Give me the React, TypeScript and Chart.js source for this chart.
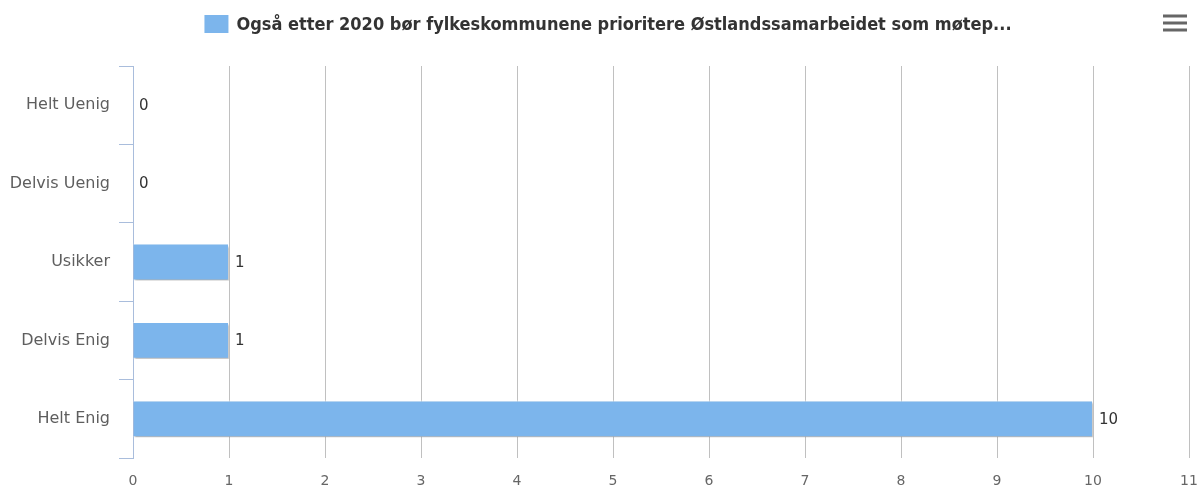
import React, { useEffect, useRef } from "react";
import { Chart, registerables } from "chart.js";

Chart.register(...registerables);

const categories = ["Helt Uenig", "Delvis Uenig", "Usikker", "Delvis Enig", "Helt Enig"];
const values = [0, 0, 1, 1, 10];
const seriesName = "Også etter 2020 bør fylkeskommunene prioritere Østlandssamarbeidet som møtep...";
const xTicks = [0, 1, 2, 3, 4, 5, 6, 7, 8, 9, 10, 11];

const FONT = "'DejaVu Sans', sans-serif";
const LEGEND_FONT = "'DejaVu Sans Condensed', 'DejaVu Sans', sans-serif";
const BAR_COLOR = "#7cb5ec";

const extrasPlugin = {
  id: "extras",
  beforeDatasetDraw(chart: any) {
    const ctx = chart.ctx;
    ctx.save();
    ctx.shadowColor = "rgba(0,0,0,0.3)";
    ctx.shadowOffsetX = 1;
    ctx.shadowOffsetY = 2;
    ctx.shadowBlur = 2;
  },
  afterDatasetDraw(chart: any) {
    chart.ctx.restore();
  },
  afterDraw(chart: any) {
    const ctx = chart.ctx;
    // data labels
    const meta = chart.getDatasetMeta(0);
    ctx.save();
    ctx.font = `15px ${FONT}`;
    ctx.fillStyle = "#333";
    ctx.textAlign = "left";
    ctx.textBaseline = "middle";
    meta.data.forEach((el: any, i: number) => {
      ctx.fillText(String(values[i]), el.x + 6, el.y + 1);
    });
    // legend
    ctx.font = `bold 18px ${LEGEND_FONT}`;
    const tw = ctx.measureText(seriesName).width;
    const boxW = 24;
    const boxH = 18;
    const gap = 8;
    const total = boxW + gap + tw;
    const startX = 608 - total / 2;
    const cy = 24;
    ctx.fillStyle = BAR_COLOR;
    ctx.fillRect(startX, cy - boxH / 2, boxW, boxH);
    ctx.fillStyle = "#333";
    ctx.textBaseline = "middle";
    ctx.fillText(seriesName, startX + boxW + gap, cy + 1);
    // hamburger menu
    ctx.fillStyle = "#666";
    [16, 23, 30].forEach((y) => {
      ctx.fillRect(1163, y - 1.5, 24, 3);
    });
    ctx.restore();
  },
};

export default function App() {
  const ref = useRef<HTMLCanvasElement>(null);
  useEffect(() => {
    if (!ref.current) return;
    const chart = new Chart(ref.current, {
      type: "bar",
      data: {
        labels: categories,
        datasets: [
          {
            label: seriesName,
            data: values,
            backgroundColor: BAR_COLOR,
            borderColor: "#ffffff",
            borderWidth: 1,
            barPercentage: 0.47,
            categoryPercentage: 1,
          },
        ],
      },
      options: {
        indexAxis: "y",
        animation: false,
        responsive: false,
        maintainAspectRatio: false,
        layout: { padding: { top: 66, right: 11, bottom: 0, left: 0 } },
        plugins: {
          legend: { display: false },
          tooltip: { enabled: false },
        },
        scales: {
          x: {
            type: "linear",
            min: 0,
            max: 11,
            afterBuildTicks: (scale: any) => {
              scale.ticks = xTicks.map((v) => ({ value: v }));
            },
            afterFit: (scale: any) => {
              scale.height = 31;
              scale.paddingLeft = 0;
              scale.paddingRight = 0;
            },
            ticks: {
              color: "#666",
              font: { family: FONT, size: 14 },
              padding: 15,
            },
            grid: {
              color: (c: any) => (c.index === 0 ? "rgba(0,0,0,0)" : "#c0c0c0"),
              lineWidth: 1,
              drawTicks: false,
            },
            border: { display: false },
          },
          y: {
            type: "category",
            afterFit: (scale: any) => {
              scale.width = 133;
              scale.paddingTop = 0;
              scale.paddingBottom = 0;
            },
            ticks: {
              color: "#5e5e5e",
              font: { family: FONT, size: 16 },
              padding: 9,
            },
            grid: {
              offset: true,
              drawOnChartArea: false,
              drawTicks: true,
              tickLength: 14,
              color: "#a9bddc",
            },
            border: { display: true, color: "#a9bddc", width: 1 },
          },
        },
      },
      plugins: [extrasPlugin],
    } as any);
    return () => chart.destroy();
  }, []);
  return (
    <div style={{ position: "fixed", left: 0, top: 0, width: 1200, height: 489, background: "#fff" }}>
      <canvas ref={ref} width={1200} height={489} style={{ width: 1200, height: 489, display: "block" }} />
    </div>
  );
}
